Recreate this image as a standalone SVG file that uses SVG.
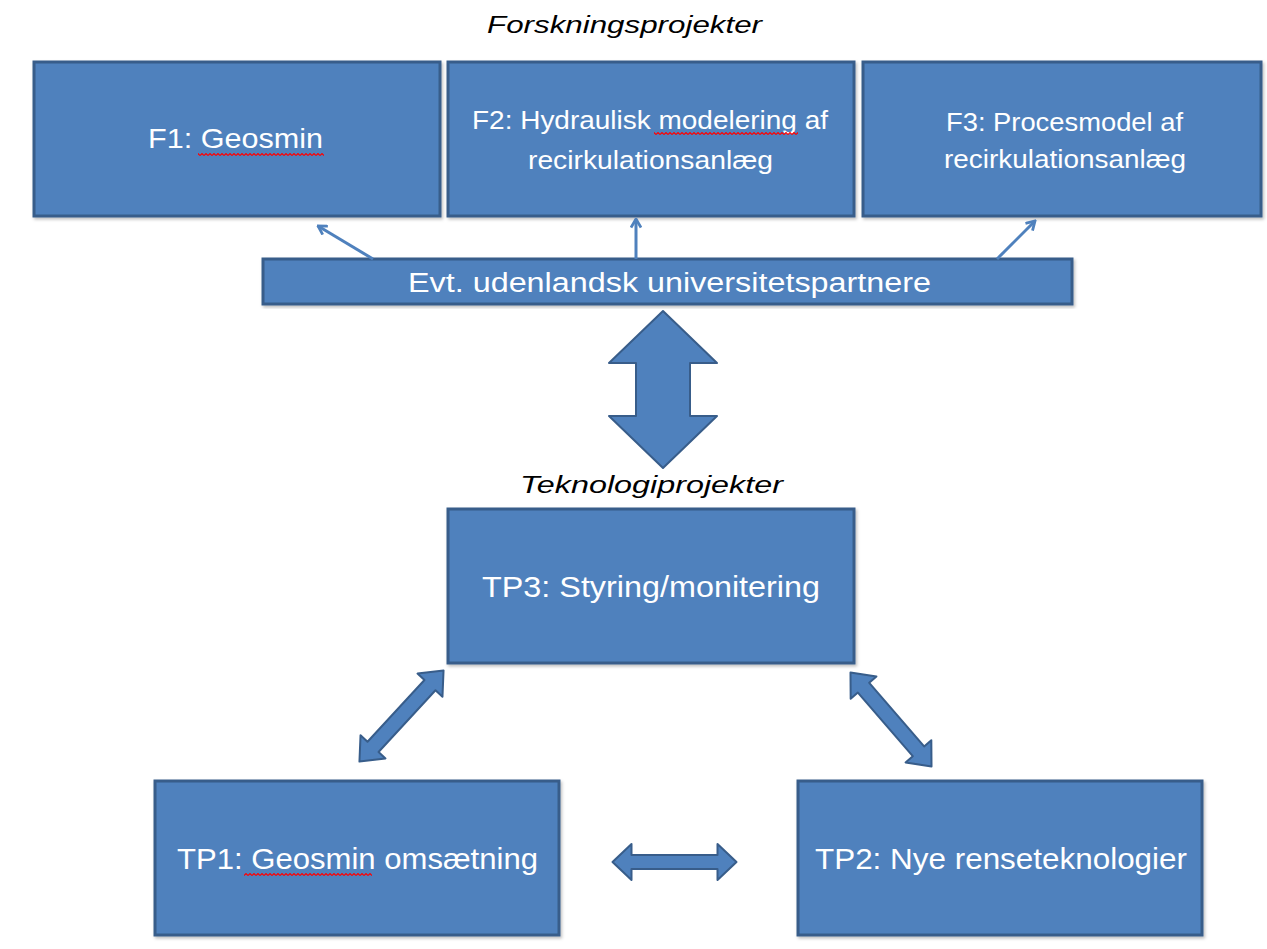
<svg xmlns="http://www.w3.org/2000/svg" width="1267" height="949" viewBox="0 0 1267 949">
  <style>
    .box { fill: #4F81BD; stroke: #385D8A; stroke-width: 3; filter: url(#shadow); }
    .lbl { font-family: "Liberation Sans", Arial, sans-serif; fill: #FFFFFF; }
    .ttl { font-family: "Liberation Sans", Arial, sans-serif; font-style: italic; fill: #000000; font-size: 24px; }
    .conn { stroke: #4F81BD; stroke-width: 3; fill: none; marker-end: url(#head); }
    .dbl { fill: #4F81BD; stroke: #385D8A; stroke-width: 2; stroke-linejoin: round; }
    .sq { fill: url(#squiggle); }
  </style>
  <defs>
    <filter id="shadow" x="-5%" y="-5%" width="110%" height="115%">
      <feDropShadow dx="1.5" dy="2" stdDeviation="1.5" flood-color="#000000" flood-opacity="0.25"/>
    </filter>
    <marker id="head" viewBox="0 0 12 12" markerWidth="12" markerHeight="12" refX="10.5" refY="6" orient="auto" markerUnits="userSpaceOnUse">
      <path d="M2,1 L10.5,6 L2,11" fill="none" stroke="#4F81BD" stroke-width="2.8" stroke-linejoin="miter"/>
    </marker>
    <pattern id="squiggle" x="0" y="0" width="4" height="3" patternUnits="userSpaceOnUse">
      <path d="M0 2.5 L2 0.5 L4 2.5" fill="none" stroke="#FF0000" stroke-width="1.1"/>
    </pattern>
    <path id="dblH" d="M-62,0 L-43,-18 L-43,-7 L43,-7 L43,-18 L62,0 L43,18 L43,7 L-43,7 L-43,18 Z"/>
    <path id="dblD" d="M-62,0 L-42,-17 L-42,-7.5 L42,-7.5 L42,-17 L62,0 L42,17 L42,7.5 L-42,7.5 L-42,17 Z"/>
  </defs>

  <rect width="1267" height="949" fill="#FFFFFF"/>

  <text class="ttl" x="487" y="33" textLength="275" lengthAdjust="spacingAndGlyphs">Forskningsprojekter</text>
  <text class="ttl" x="520" y="493" textLength="263" lengthAdjust="spacingAndGlyphs">Teknologiprojekter</text>

  <g id="F1">
    <rect class="box" x="34" y="62" width="406" height="154"/>
    <text class="lbl" x="148" y="148" font-size="28" textLength="175" lengthAdjust="spacingAndGlyphs">F1: Geosmin</text>
    <rect class="sq" x="198" y="153" width="126" height="3"/>
  </g>

  <g id="F2">
    <rect class="box" x="448" y="62" width="406" height="154"/>
    <text class="lbl" x="472" y="129" font-size="25" textLength="356" lengthAdjust="spacingAndGlyphs">F2: Hydraulisk modelering af</text>
    <text class="lbl" x="528" y="169" font-size="25" textLength="245" lengthAdjust="spacingAndGlyphs">recirkulationsanlæg</text>
    <rect class="sq" x="654" y="132" width="144" height="3"/>
  </g>

  <g id="F3">
    <rect class="box" x="863" y="62" width="398" height="154"/>
    <text class="lbl" x="946" y="131" font-size="25" textLength="237" lengthAdjust="spacingAndGlyphs">F3: Procesmodel  af</text>
    <text class="lbl" x="944" y="168" font-size="25" textLength="242" lengthAdjust="spacingAndGlyphs">recirkulationsanlæg</text>
  </g>

  <g id="Evt">
    <rect class="box" x="263" y="259" width="809" height="45"/>
    <text class="lbl" x="408" y="292" font-size="27" textLength="523" lengthAdjust="spacingAndGlyphs">Evt. udenlandsk universitetspartnere</text>
  </g>

  <g id="TP3">
    <rect class="box" x="448" y="509" width="406" height="154"/>
    <text class="lbl" x="482" y="597" font-size="29" textLength="338" lengthAdjust="spacingAndGlyphs">TP3: Styring/monitering</text>
  </g>

  <g id="TP1">
    <rect class="box" x="155" y="781" width="404" height="154"/>
    <text class="lbl" x="177" y="869" font-size="29" textLength="361" lengthAdjust="spacingAndGlyphs">TP1: Geosmin omsætning</text>
    <rect class="sq" x="244" y="873" width="128" height="3"/>
  </g>

  <g id="TP2">
    <rect class="box" x="798" y="781" width="404" height="154"/>
    <text class="lbl" x="815" y="869" font-size="29" textLength="372" lengthAdjust="spacingAndGlyphs">TP2: Nye renseteknologier</text>
  </g>

  <g id="connectors">
    <line class="conn" x1="373" y1="259" x2="318" y2="226"/>
    <line class="conn" x1="636" y1="259" x2="636" y2="219"/>
    <line class="conn" x1="997" y1="259" x2="1035" y2="221"/>
    <polygon class="dbl" points="663,311 717,363 690,363 690,416 717,416 663,468 609,416 636,416 636,363 609,363"/>
    <use href="#dblD" class="dbl" transform="translate(401.5,716) rotate(-47.3)"/>
    <use href="#dblD" class="dbl" transform="translate(891,719.5) rotate(49.2)"/>
    <use href="#dblH" class="dbl" transform="translate(674.5,862)"/>
  </g>
</svg>
